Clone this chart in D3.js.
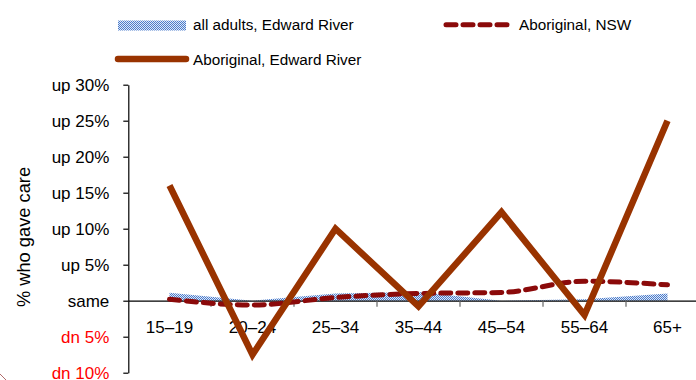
<!DOCTYPE html>
<html><head><meta charset="utf-8">
<script src="https://cdn.jsdelivr.net/npm/d3@7"></script>
<style>
html,body{margin:0;padding:0;background:#fff;}
svg{display:block;font-family:"Liberation Sans",Arial,sans-serif;}
</style></head>
<body><svg id="c" width="696" height="380"></svg>
<script>
const categories = ["15–19","20–24","25–34","35–44","45–54","55–64","65+"];
const allAdultsER = [1.1, 0.0, 1.0, 1.2, 0.0, 0.2, 1.0];
const aboriginalNSW = [0.2, -0.6, 0.45, 1.0, 1.15, 2.7, 2.2];
const aboriginalER = [16, -7.5, 10, -0.8, 12.3, -2.0, 25];
const yTicks = [-10,-5,0,5,10,15,20,25,30];
const yTickLabels = ["dn 10%","dn 5%","same","up 5%","up 10%","up 15%","up 20%","up 25%","up 30%"];
const seriesNames = ["all adults, Edward River","Aboriginal, NSW","Aboriginal, Edward River"];
const yTitle = "% who gave care";

const svg = d3.select("#c");
const defs = svg.append("defs");
const pat = defs.append("pattern").attr("id","chk").attr("patternUnits","userSpaceOnUse")
  .attr("width",2).attr("height",2);
pat.append("rect").attr("width",2).attr("height",2).attr("fill","#dfe8f7");
pat.append("rect").attr("width",1).attr("height",1).attr("fill","#4a7bcb");
pat.append("rect").attr("x",1).attr("y",1).attr("width",1).attr("height",1).attr("fill","#4a7bcb");

const y = d3.scaleLinear().domain([-10,30]).range([372.7,84.7]);
const x = d3.scaleBand().domain(categories).range([128,709]).padding(0);
const cx = c => x(c) + x.bandwidth()/2;

// area
const area = d3.area().x((d,i)=>cx(categories[i])).y0(y(0)).y1(d=>y(d));
svg.append("path").datum(allAdultsER).attr("d",area).attr("fill","url(#chk)");

// x axis
const xAxis = d3.axisBottom(x).tickSizeInner(0).tickSizeOuter(0).tickPadding(20);
const gx = svg.append("g").attr("transform",`translate(0,${y(0)})`).call(xAxis);
gx.select(".domain").attr("stroke","#000").attr("stroke-width",1.2);
gx.selectAll("text").attr("font-size",17).attr("fill","#000").attr("font-family","Liberation Sans, Arial, sans-serif");
gx.selectAll(".tick line").remove();
gx.selectAll(".bt").data(categories.slice(1)).join("line").attr("class","bt")
  .attr("x1",d=>x(d)).attr("x2",d=>x(d)).attr("y1",0).attr("y2",6)
  .attr("stroke","#666").attr("stroke-width",1.2);

// y axis
const yAxis = d3.axisLeft(y).tickValues(yTicks).tickSizeInner(5).tickSizeOuter(0).tickPadding(14)
  .tickFormat((d,i)=>yTickLabels[i]);
const gy = svg.append("g").attr("transform",`translate(128.3,0)`).call(yAxis);
gy.select(".domain").attr("stroke","#000").attr("stroke-width",1.2);
gy.selectAll(".tick line").attr("stroke","#000").attr("stroke-width",1.2);
gy.selectAll("text").attr("font-size",17).attr("font-family","Liberation Sans, Arial, sans-serif")
  .attr("fill",d=>d<0?"#ff0000":"#000");

// NSW dashed line
const lineSmooth = d3.line().x((d,i)=>cx(categories[i])).y(d=>y(d)).curve(d3.curveMonotoneX);
svg.append("path").datum(aboriginalNSW).attr("d",lineSmooth).attr("fill","none")
  .attr("stroke","#8b0a0a").attr("stroke-width",5).attr("stroke-dasharray","10,7")
  .attr("stroke-linecap","round");

// Edward River Aboriginal line
const line = d3.line().x((d,i)=>cx(categories[i])).y(d=>y(d));
svg.append("path").datum(aboriginalER).attr("d",line).attr("fill","none")
  .attr("stroke","#993300").attr("stroke-width",6.5).attr("stroke-linejoin","miter");

// y title
svg.append("text").attr("transform","translate(30,237) rotate(-90)").attr("text-anchor","middle")
  .attr("font-size",18.3).attr("fill","#000").text(yTitle);

// legend
const lg = svg.append("g").attr("font-size",15.3).attr("fill","#000");
lg.append("rect").attr("x",118).attr("y",20.5).attr("width",68).attr("height",10).attr("fill","url(#chk)");
lg.append("text").attr("x",193).attr("y",25).attr("dy","0.35em").text(seriesNames[0]);
lg.append("line").attr("x1",446).attr("x2",511).attr("y1",24.7).attr("y2",24.7)
  .attr("stroke","#8b0a0a").attr("stroke-width",5).attr("stroke-dasharray","10,7").attr("stroke-linecap","round");
lg.append("text").attr("x",519).attr("y",25).attr("dy","0.35em").text(seriesNames[1]);
lg.append("line").attr("x1",118).attr("x2",186).attr("y1",59).attr("y2",59)
  .attr("stroke","#993300").attr("stroke-width",6.5).attr("stroke-linecap","round");
lg.append("text").attr("x",193).attr("y",60).attr("dy","0.35em").text(seriesNames[2]);

// decorative corner arc
svg.append("path").attr("d","M0,374 L6,380").attr("stroke","#b06a6a").attr("stroke-width",1).attr("fill","none");
</script></body></html>
